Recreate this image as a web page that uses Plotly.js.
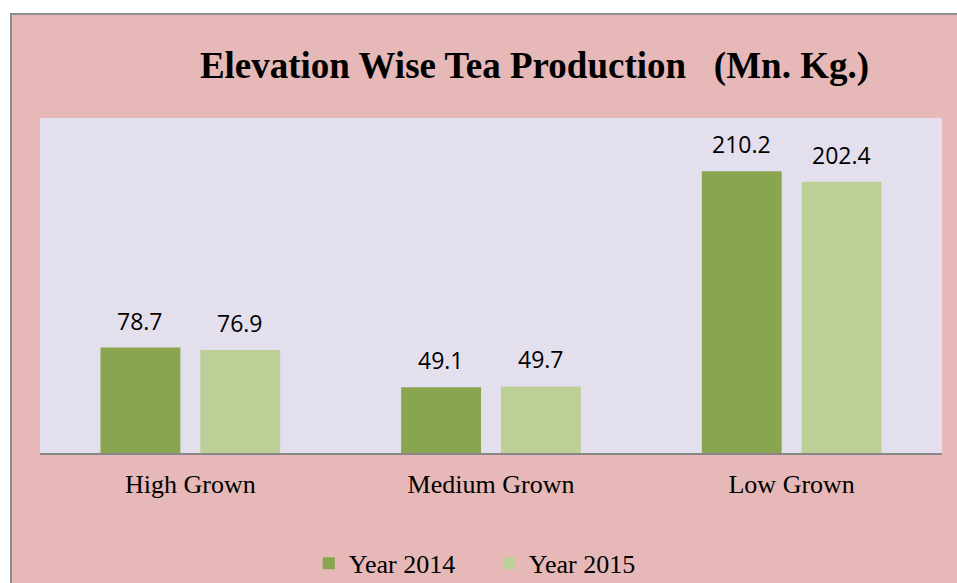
<!DOCTYPE html>
<html>
<head>
<meta charset="utf-8">
<script src="https://cdn.plot.ly/plotly-3.0.1.min.js"></script>
<style>
  html, body { margin: 0; padding: 0; background: #ffffff; overflow: hidden; width: 957px; height: 583px; }
  #chart { position: absolute; left: 10px; top: 13px; width: 946px; height: 570px;
           border-left: 2px solid #8f8f8f; border-top: 2px solid #8f8f8f; }
</style>
</head>
<body>
<div id="chart"></div>
<script>
const categories = ["High Grown", "Medium Grown", "Low Grown"];
const seriesNames = ["Year 2014", "Year 2015"];
const values2014 = [78.7, 49.1, 210.2];
const values2015 = [76.9, 49.7, 202.4];
const seriesColors = ["#8AA54F", "#BBCF96"];

const seriesValues = [values2014, values2015];
const traces = seriesValues.map((vals, i) => ({
  type: "bar",
  name: seriesNames[i],
  x: categories,
  y: vals,
  marker: { color: seriesColors[i] },
  hoverinfo: "x+y+name"
}));

const annotations = [];
seriesValues.forEach((vals, i) => {
  vals.forEach((v, j) => {
    annotations.push({
      x: categories[j], y: v, xref: "x", yref: "y",
      text: v.toFixed(1), showarrow: false,
      xanchor: "center", yanchor: "bottom",
      xshift: i === 0 ? -50 : 50, yshift: 9,
      font: { family: "Open Sans, Arial, sans-serif", size: 23, color: "#000000" }
    });
  });
});

const layout = {
  width: 946, height: 570,
  paper_bgcolor: "#E6B8B7",
  plot_bgcolor: "#E4DFEC",
  margin: { l: 28, r: 16, t: 103, b: 132 },
  title: {
    text: "Elevation Wise Tea Production\u00A0\u00A0\u00A0(Mn. Kg.)",
    font: { family: "Liberation Serif, Times New Roman, serif", size: 37, color: "#000000", weight: "bold" },
    xref: "container", yref: "container",
    x: 0.5523, xanchor: "center",
    y: 0.912, yanchor: "middle"
  },
  barmode: "group",
  bargap: 0.336,
  bargroupgap: 0.2,
  xaxis: {
    showline: true, linecolor: "#888888", linewidth: 2,
    showgrid: false, zeroline: false, ticks: "",
    ticklabelstandoff: 7,
    tickfont: { family: "Liberation Serif, Times New Roman, serif", size: 26, color: "#000000" }
  },
  yaxis: {
    range: [0, 250], visible: false, showgrid: false, zeroline: false
  },
  showlegend: true,
  legend: {
    orientation: "h",
    xref: "container", yref: "container",
    x: 0.504, xanchor: "center",
    y: 0.038, yanchor: "middle",
    entrywidth: 135,
    bgcolor: "rgba(0,0,0,0)",
    font: { family: "Liberation Serif, Times New Roman, serif", size: 26, color: "#000000" },
    traceorder: "normal"
  },
  annotations: annotations
};

Plotly.newPlot("chart", traces, layout, { displayModeBar: false, staticPlot: true });
</script>
</body>
</html>
